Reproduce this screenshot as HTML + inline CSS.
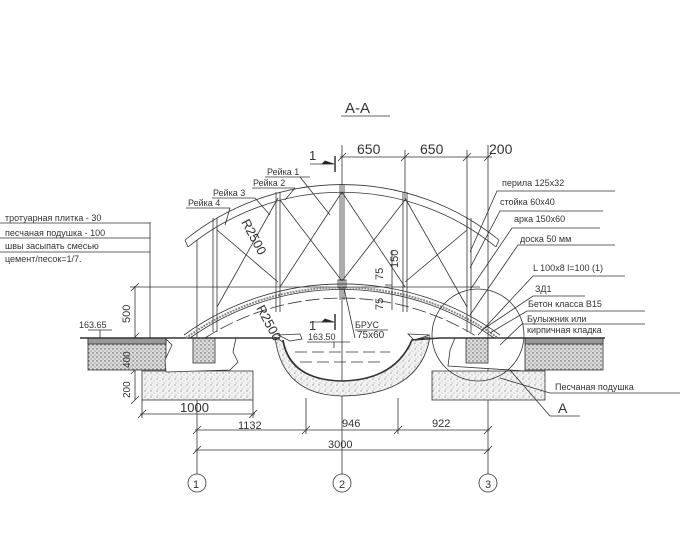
<!DOCTYPE html>
<html><head><meta charset="utf-8"><style>
html,body{margin:0;padding:0;background:#fff;}
svg{display:block;}
text{font-family:"Liberation Sans","DejaVu Sans",sans-serif;fill:#333;}
</style></head><body>
<svg width="700" height="560" viewBox="0 0 700 560" xmlns="http://www.w3.org/2000/svg">
<defs>
<pattern id="st" width="6" height="6" patternUnits="userSpaceOnUse">
<rect width="6" height="6" fill="#f2f2f2"/>
<circle cx="1" cy="1" r="0.6" fill="#777"/><circle cx="4" cy="3" r="0.5" fill="#999"/><circle cx="2" cy="5" r="0.5" fill="#888"/>
</pattern>
<pattern id="st2" width="4" height="4" patternUnits="userSpaceOnUse">
<rect width="4" height="4" fill="#ddd"/><circle cx="1" cy="1" r="0.7" fill="#555"/><circle cx="3" cy="3" r="0.6" fill="#777"/>
</pattern>
</defs>
<g stroke="#333" stroke-width="0.8" fill="none">
<line x1="341" y1="116" x2="390" y2="116"/>
<line x1="197" y1="240" x2="197" y2="474"/>
<line x1="342" y1="145" x2="342" y2="474"/>
<line x1="488" y1="145" x2="488" y2="474"/>
<circle cx="197" cy="483" r="9"/><circle cx="342" cy="483" r="9"/><circle cx="488" cy="483" r="9"/>
<line x1="340" y1="157" x2="492" y2="157"/>
<line x1="405" y1="150" x2="405" y2="200"/><line x1="467" y1="150" x2="467" y2="230"/>
<path d="M338 161 L346 153 M401 161 L409 153 M463 161 L471 153 M484 161 L492 153"/>
<line x1="195" y1="430" x2="490" y2="430"/>
<line x1="195" y1="450" x2="490" y2="450"/>
<line x1="306" y1="398" x2="306" y2="434"/><line x1="398" y1="398" x2="398" y2="434"/>
<path d="M193 434 L201 426 M302 434 L310 426 M394 434 L402 426 M484 434 L492 426 M193 454 L201 446 M484 454 L492 446"/>
<line x1="140" y1="414" x2="255" y2="414"/>
<line x1="142" y1="400" x2="142" y2="418"/><line x1="253" y1="400" x2="253" y2="418"/>
<path d="M138 418 L146 410 M249 418 L257 410"/>
<line x1="135" y1="286" x2="135" y2="400"/>
<line x1="130" y1="287" x2="480" y2="287"/>
<path d="M131 291 L139 283 M131 341 L139 333 M131 374 L139 366 M131 404 L139 396"/>
<line x1="150" y1="222" x2="150" y2="345"/>
<line x1="0" y1="223" x2="150" y2="223"/><line x1="0" y1="238" x2="150" y2="238"/><line x1="0" y1="252" x2="150" y2="252"/>
<rect x="142" y="371" width="111" height="29" fill="url(#st)"/>
<rect x="432" y="371" width="113" height="29" fill="url(#st)"/>
<rect x="88" y="338" width="78" height="32" fill="url(#st2)"/>
<rect x="525" y="338" width="78" height="32" fill="url(#st2)"/>
<rect x="88" y="338" width="78" height="6" fill="#999"/>
<rect x="525" y="338" width="78" height="6" fill="#999"/>
<path d="M165 338 L236 338 L233 352 L238 362 L230 370 L166 372 L165 360 L172 345 Z" fill="#fff"/>
<path d="M455 338 L525 338 L525 371 L448 366 L450 350 Z" fill="#fff"/>
<rect x="193" y="338" width="22" height="25" fill="url(#st2)"/>
<rect x="466" y="338" width="22" height="25" fill="url(#st2)"/>
<path d="M275 337 Q282 395 342 396 Q420 395 430 337 L412 340 Q395 380 342 381 Q290 380 283 342 Z" fill="url(#st)"/>
<path d="M295 352 L390 352 M300 362 L385 362" stroke-dasharray="12 5"/>
<path d="M278 335 L300 334 L302 339 L290 341 Z" fill="#fff"/>
<path d="M408 334 L430 335 L414 340 Z" fill="#fff"/>
<path d="M80 338 L280 338" stroke-width="1.6"/>
<path d="M283 340 Q290 380 342 381 Q395 380 412 340 L440 338 L605 338" stroke-width="1.6"/>
<path d="M185 240 A250 250 0 0 1 499 240"/>
<path d="M188 247 A244 244 0 0 1 496 247"/>
<path d="M185 240 L188 247 M499 240 L496 247"/>
<path d="M184 335 A270 270 0 0 1 500 335"/>
<path d="M186 338 A266 266 0 0 1 498 338" stroke-width="2" stroke="#888" stroke-dasharray="2 1"/>
<path d="M190 338 A262 262 0 0 1 494 338"/>
<path d="M205 338 A255 255 0 0 1 479 338" stroke-dasharray="14 4"/>
<path d="M213 218 L213 332 M217 218 L217 332"/>
<path d="M276 192 L276 312 M280 192 L280 312"/>
<path d="M340 185 L340 300 M344 185 L344 300"/>
<path d="M403 192 L403 312 M407 192 L407 312"/>
<path d="M467 218 L467 332 M471 218 L471 332"/>
<rect x="338" y="280" width="8" height="8"/>
<path d="M278 198 L217 307 M217 230 L278 282 M342 192 L280 287 M280 200 L342 281 M342 192 L405 287 M405 200 L342 281 M405 198 L467 307 M467 230 L405 282"/>
<line x1="265" y1="177" x2="310" y2="177"/><line x1="300" y1="177" x2="330" y2="215"/>
<line x1="252" y1="188" x2="295" y2="188"/><line x1="295" y1="188" x2="285" y2="200"/>
<line x1="212" y1="198" x2="255" y2="198"/><line x1="255" y1="198" x2="270" y2="215"/>
<line x1="186" y1="208" x2="230" y2="208"/><line x1="230" y1="208" x2="225" y2="225"/>
<path d="M310 164 L333 164 M310 322 L333 322" />
<path d="M335 156 L335 172 M335 314 L335 330" stroke-width="1.5"/>
<path d="M322 164 L334 164 L325 161 Z M322 322 L334 322 L325 319 Z" fill="#222"/>
<path d="M344 288 L355 338 M355 330 L388 330"/>
<path d="M88 330 L112 330 M100 330 L100 338 M307 342 L350 342 M334 342 L334 348"/>
<path d="M470 252 L497 191 L615 191"/>
<path d="M470 268 L500 211 L603 211"/>
<path d="M470 290 L512 228 L600 228"/>
<path d="M470 315 L518 245 L615 245"/>
<path d="M478 335 L533 276 L625 276"/>
<path d="M482 330 L533 296 L585 296"/>
<path d="M490 333 L527 311 L645 311"/>
<path d="M500 345 L522 324 L645 324"/>
<path d="M500 378 L550 393 L680 393"/>
<path d="M510 370 L550 416 L580 416"/>
<circle cx="478" cy="335" r="46"/>
<path d="M392 250 L392 310 M385 285 L392 285"/>
</g>
<g font-size="13">
<text x="345" y="113" font-size="15">А-А</text>
<text x="357" y="154" font-size="14">650</text>
<text x="420" y="154" font-size="14">650</text>
<text x="489" y="154" font-size="14">200</text>
<text x="238" y="429" font-size="11">1132</text>
<text x="342" y="427" font-size="11">946</text>
<text x="432" y="427" font-size="11">922</text>
<text x="328" y="448" font-size="11">3000</text>
<text x="180" y="412" font-size="13">1000</text>
<text x="196" y="488" font-size="11" text-anchor="middle">1</text>
<text x="342" y="488" font-size="11" text-anchor="middle">2</text>
<text x="488" y="488" font-size="11" text-anchor="middle">3</text>
<text x="309" y="160" font-size="13">1</text>
<text x="309" y="330" font-size="13">1</text>
</g>
<g font-size="9">
<text x="5" y="221">тротуарная плитка - 30</text>
<text x="5" y="236">песчаная подушка - 100</text>
<text x="5" y="249">швы засыпать смесью</text>
<text x="5" y="262">цемент/песок=1/7.</text>
<text x="267" y="175">Рейка 1</text>
<text x="253" y="186">Рейка 2</text>
<text x="213" y="196">Рейка 3</text>
<text x="188" y="206">Рейка 4</text>
<text x="79" y="328">163.65</text>
<text x="308" y="340">163.50</text>
<text x="355" y="328">БРУС</text>
<text x="357" y="338" font-size="10">75x60</text>
<text x="502" y="186">перила 125x32</text>
<text x="500" y="205">стойка 60x40</text>
<text x="514" y="222">арка 150x60</text>
<text x="520" y="242">доска 50 мм</text>
<text x="533" y="271">L 100x8 l=100 (1)</text>
<text x="535" y="292">ЗД1</text>
<text x="528" y="307">Бетон класса B15</text>
<text x="527" y="322">Булыжник или</text>
<text x="527" y="333">кирпичная кладка</text>
<text x="555" y="390">Песчаная подушка</text>
<text x="558" y="413" font-size="14">А</text>
<text transform="translate(130,323) rotate(-90)" font-size="11">500</text>
<text transform="translate(130,368) rotate(-90)" font-size="10">400</text>
<text transform="translate(130,398) rotate(-90)" font-size="10">200</text>
<text transform="translate(383,280) rotate(-90)" font-size="11">75</text>
<text transform="translate(383,310) rotate(-90)" font-size="11">75</text>
<text transform="translate(398,268) rotate(-90)" font-size="11">150</text>
<text transform="translate(241,222) rotate(62)" font-size="13">R2500</text>
<text transform="translate(256,308) rotate(62)" font-size="13">R2500</text>
</g>
</svg>
</body></html>
